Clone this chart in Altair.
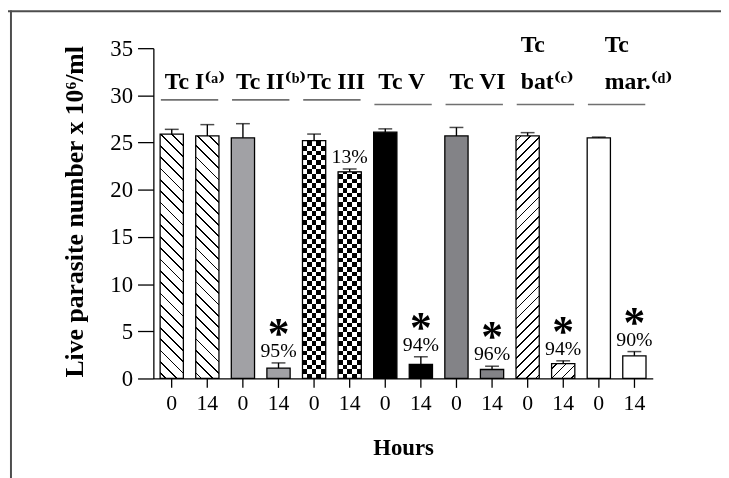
import altair as alt
import pandas as pd

# ---------------- data ----------------
groups = ["Tc I", "Tc II", "Tc III", "Tc V", "Tc VI", "Tc bat", "Tc mar."]
label_line1 = ["", "", "", "", "", "Tc", "Tc"]
label_line2 = ["Tc I⁽ᵃ⁾", "Tc II⁽ᵇ⁾", "Tc III", "Tc V", "Tc VI", "bat⁽ᶜ⁾", "mar.⁽ᵈ⁾"]
hours = ["0", "14"]
mean_0h = [25.9, 25.5, 25.2, 26.1, 25.7, 25.7, 25.5]
sd_0h = [0.5, 1.5, 0.7, 0.35, 0.9, 0.35, 0.08]
mean_14h = [25.7, 1.1, 21.9, 1.5, 0.95, 1.57, 2.4]
sd_14h = [1.2, 0.55, 0.3, 0.8, 0.35, 0.3, 0.45]
reduction_14h = ["", "95%", "13%", "94%", "96%", "94%", "90%"]
significant = [False, True, False, True, True, True, True]

# ---------------- styles ----------------
SERIF = "Liberation Serif, Times New Roman, DejaVu Serif"
SOLID = {"Tc I": "#ffffff", "Tc II": "#a1a1a5", "Tc III": "#ffffff", "Tc V": "#000000",
         "Tc VI": "#838387", "Tc bat": "#ffffff", "Tc mar.": "#ffffff"}
W, H = 505, 334
YMAX = 35
PI, PO = 0.347, 0.19

rows = []
for i, g in enumerate(groups):
    for h, m, s in ((hours[0], mean_0h[i], sd_0h[i]), (hours[1], mean_14h[i], sd_14h[i])):
        rows.append({"id": f"{g}|{h}", "group": g, "hours": h, "mean": m, "upper": m + s,
                     "pct": reduction_14h[i] if h == hours[1] else "",
                     "sig": bool(significant[i] and h == hours[1])})
df = pd.DataFrame(rows)
ids = list(df["id"])

labels = pd.DataFrame({"id": [f"{g}|{hours[0]}" for g in groups], "group": groups,
                       "line1": label_line1, "line2": label_line2,
                       "gi": list(range(len(groups)))})

STEP = W / (len(ids) - PI + 2 * PO)
BW = STEP * (1 - PI)


def px(v):
    return v * H / YMAX


def diag_gradient(w, h, period, lw, forward):
    L = w + h
    lam = L / (w * w + h * h)
    if forward:   # '/' stripes : x + y = const
        x1, y1, x2, y2 = 0, 0, lam * w, lam * h
    else:         # '\' stripes : x - y = const
        x1, y1, x2, y2 = 0, 1, lam * w, 1 - lam * h
    stops = [{"offset": 0, "color": "white"}]
    d = period * 0.5
    while d < L:
        a = max(0.0, (d - lw / 2) / L)
        b = min(1.0, (d + lw / 2) / L)
        stops += [{"offset": a, "color": "white"}, {"offset": a, "color": "black"},
                  {"offset": b, "color": "black"}, {"offset": b, "color": "white"}]
        d += period
    stops.append({"offset": 1, "color": "white"})
    return {"gradient": "linear", "x1": x1, "y1": y1, "x2": x2, "y2": y2, "stops": stops}


def column_gradient(n):
    stops = []
    for k in range(n):
        c = "black" if k % 2 == 0 else "white"
        stops += [{"offset": k / n, "color": c}, {"offset": (k + 1) / n, "color": c}]
    return {"gradient": "linear", "x1": 0, "y1": 0, "x2": 1, "y2": 0, "stops": stops}


def row_gradient(h, cell):
    stops = []
    k = 0
    bottom = h
    segs = []
    while bottom > 0:
        top = max(0.0, bottom - cell)
        segs.append((top / h, bottom / h, "white" if k % 2 == 0 else "black"))
        bottom = top
        k += 1
    for a, b, c in reversed(segs):
        stops += [{"offset": a, "color": c}, {"offset": b, "color": c}]
    return {"gradient": "linear", "x1": 0, "y1": 0, "x2": 0, "y2": 1, "stops": stops}


x_scale = alt.Scale(domain=ids, paddingInner=PI, paddingOuter=PO)
y_scale = alt.Scale(domain=[0, YMAX], nice=False, zero=True)
x_axis = alt.Axis(title="Hours", labelExpr="split(datum.label, '|')[1]", labelAngle=0,
                  tickSize=9, labelPadding=5, labelFontSize=22,
                  titleFontSize=23, titleY=70, titleBaseline="middle", titleX=W / 2)
y_axis = alt.Axis(title="Live parasite number x 10⁶/ml", values=list(range(0, 36, 5)),
                  tickSize=16, labelPadding=5, labelFontSize=23, titleFontSize=26,
                  titleAngle=270, titleX=-80, titleY=H / 2 - 2, titleAlign="center",
                  titleBaseline="middle")
X = alt.X("id:N", scale=x_scale, axis=x_axis, sort=ids)
Y = alt.Y("mean:Q", scale=y_scale, axis=y_axis)
YU = alt.Y("upper:Q", scale=y_scale, axis=y_axis)

base = alt.Chart(df)

bars = base.mark_bar(strokeWidth=0).encode(
    x=X, y=Y,
    fill=alt.Fill("group:N", scale=alt.Scale(domain=groups, range=[SOLID[g] for g in groups]),
                  legend=None),
)

layers = [bars]

# hatched bars
for gi, fwd, period in ((0, False, 11.5), (5, True, 10.0)):
    for h, vals in ((hours[0], mean_0h), (hours[1], mean_14h)):
        bid = f"{groups[gi]}|{h}"
        grad = diag_gradient(BW, px(vals[gi]), period, 1.8, fwd)
        layers.append(base.transform_filter(alt.datum.id == bid)
                      .mark_bar(fill=grad, strokeWidth=0).encode(x=X, y=Y))

# checkerboard bars
for h, vals in ((hours[0], mean_0h), (hours[1], mean_14h)):
    bid = f"{groups[2]}|{h}"
    hp = px(vals[2])
    layers.append(base.transform_filter(alt.datum.id == bid)
                  .mark_bar(fill=column_gradient(5), strokeWidth=0).encode(x=X, y=Y))
    layers.append(base.transform_filter(alt.datum.id == bid)
                  .mark_bar(fill=row_gradient(hp, BW / 5), strokeWidth=0, blend="difference")
                  .encode(x=X, y=Y))

# outlines
layers.append(base.mark_bar(fill="white", fillOpacity=0, stroke="black", strokeWidth=1.3)
              .encode(x=X, y=Y))

# error bars
layers.append(base.mark_rule(color="black", strokeWidth=1.4)
              .encode(x=X, y=Y, y2="upper:Q"))
layers.append(base.mark_tick(color="black", size=14, thickness=1.5, orient="horizontal")
              .encode(x=X, y=YU))

# percentages and asterisks
layers.append(base.transform_filter("datum.pct != ''")
              .mark_text(font=SERIF, fontSize=20, dy=-12, baseline="middle", color="black")
              .encode(x=X, y=YU, text="pct:N"))
layers.append(base.transform_filter("datum.sig")
              .mark_text(font=SERIF, fontSize=44, fontWeight="bold", dy=-28,
                         baseline="middle", color="black", text="*")
              .encode(x=X, y=YU))

# group labels
lab = alt.Chart(labels)
XL = alt.X("id:N", scale=x_scale, axis=x_axis, sort=ids)
for cond, dx in (("datum.gi < 6", -7), ("datum.gi >= 6", 6)):
    layers.append(lab.transform_filter(cond)
                  .mark_text(font=SERIF, fontSize=24, fontWeight="bold", align="left",
                             baseline="alphabetic", dx=dx, color="black")
                  .encode(x=XL, y=alt.value(41.3), text="line2:N"))
    layers.append(lab.transform_filter(cond).transform_filter("datum.line1 != ''")
                  .mark_text(font=SERIF, fontSize=24, fontWeight="bold", align="left",
                             baseline="alphabetic", dx=dx, color="black")
                  .encode(x=XL, y=alt.value(4.3), text="line1:N"))
layers.append(lab.transform_filter("datum.gi < 3")
              .mark_tick(orient="horizontal", size=58, thickness=1.6, color="#333333",
                         xOffset=STEP / 2)
              .encode(x=XL, y=alt.value(52.3)))
layers.append(lab.transform_filter("datum.gi >= 3")
              .mark_tick(orient="horizontal", size=58, thickness=1.6, color="#333333",
                         xOffset=STEP / 2)
              .encode(x=XL, y=alt.value(57.0)))

# frame (top and left edges)
frame = alt.Chart(pd.DataFrame({"k": [0]}))
layers.append(frame.mark_rule(color="#4d4d4d", strokeWidth=2)
              .encode(x=alt.value(-147), x2=alt.value(580), y=alt.value(-37.3)))
layers.append(frame.mark_rule(color="#4d4d4d", strokeWidth=2)
              .encode(x=alt.value(-144), y=alt.value(-38), y2=alt.value(440)))

chart = alt.layer(*layers).properties(
    width=W, height=H, autosize="none",
    padding={"left": 147, "top": 38, "right": 69, "bottom": 98},
    background="white",
).configure_view(strokeWidth=0).configure_axis(
    grid=False, labelFont=SERIF, titleFont=SERIF, titleFontWeight="bold",
    labelColor="black", titleColor="black", domainColor="black", tickColor="black",
    domainWidth=1.3, tickWidth=1.3,
)

chart.save("out.html", embed_options={"renderer": "svg", "actions": False})
